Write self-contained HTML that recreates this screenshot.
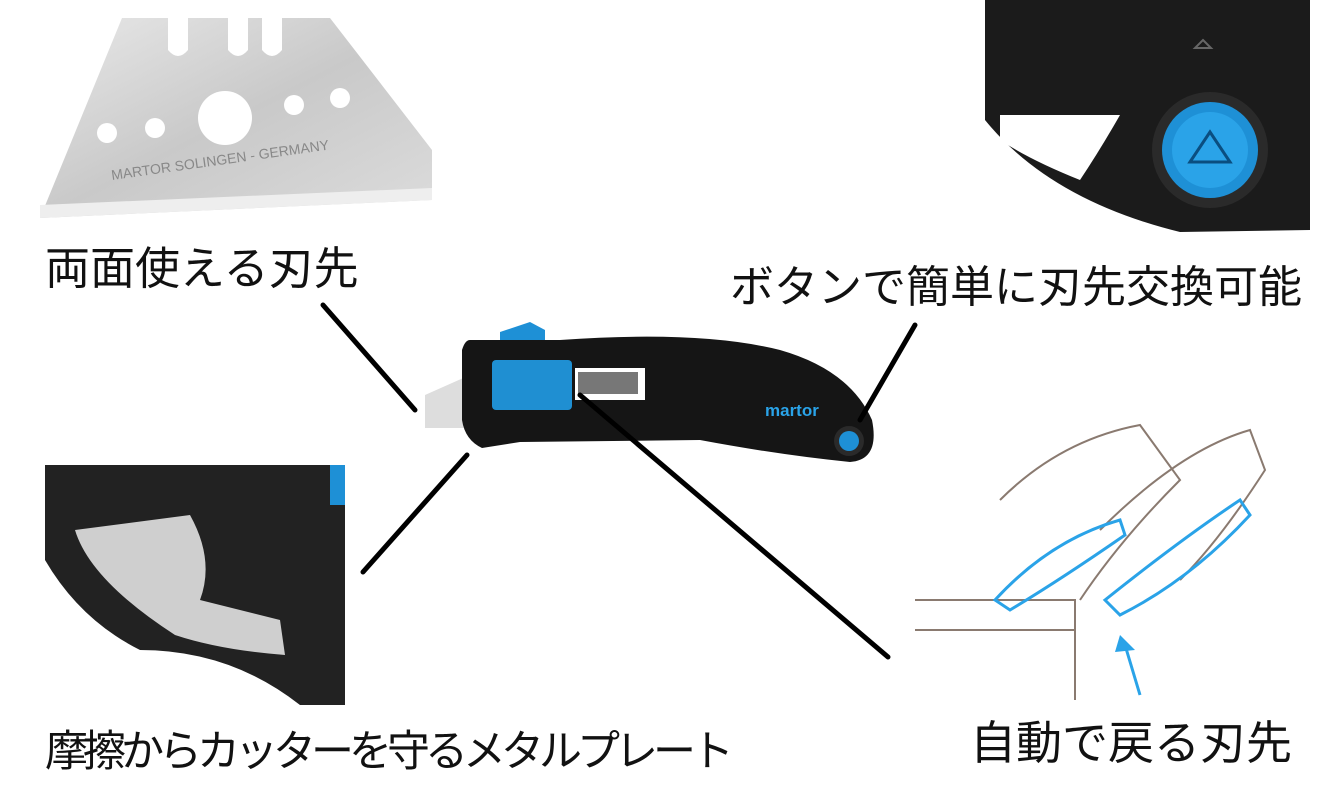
<!DOCTYPE html>
<html><head><meta charset="utf-8"><style>
body{margin:0;width:1337px;height:802px;background:#fff;position:relative;overflow:hidden;font-family:"Liberation Sans","Noto Sans CJK JP",sans-serif}
.t{position:absolute;font-size:45px;color:#111;white-space:nowrap;line-height:1}
</style></head><body>
<svg width="1337" height="802" style="position:absolute;left:0;top:0">
<defs>
<linearGradient id="sv" x1="0" y1="0" x2="1" y2="1"><stop offset="0" stop-color="#e8e8e8"/><stop offset=".5" stop-color="#c9c9c9"/><stop offset="1" stop-color="#dcdcdc"/></linearGradient>
</defs>
<!-- blade -->
<path d="M122,18 L168,18 L168,50 Q178,62 188,50 L188,18 L228,18 L228,50 Q238,62 248,50 L248,18 L262,18 L262,50 Q272,62 282,50 L282,18 L330,18 L432,150 L432,200 L40,218 Z" fill="url(#sv)"/>
<path d="M40,205 L432,188 L432,200 L40,218Z" fill="#eee"/>
<circle cx="225" cy="118" r="27" fill="#fff"/><circle cx="107" cy="133" r="10" fill="#fff"/><circle cx="155" cy="128" r="10" fill="#fff"/><circle cx="294" cy="105" r="10" fill="#fff"/><circle cx="340" cy="98" r="10" fill="#fff"/>
<text x="112" y="180" font-size="14" fill="#888" transform="rotate(-8 112 180)" font-family="Liberation Sans">MARTOR SOLINGEN - GERMANY</text>
<!-- top right photo -->
<path d="M985,0 L1310,0 L1310,230 L1180,232 Q1050,200 985,120 Z" fill="#1b1b1b"/>
<path d="M1000,115 L1120,115 Q1100,150 1080,180 Q1030,160 1000,140 Z" fill="#fff"/>
<circle cx="1210" cy="150" r="58" fill="#2a2a2a"/>
<circle cx="1210" cy="150" r="48" fill="#1e90d6"/>
<circle cx="1210" cy="150" r="38" fill="#2aa3e8"/>
<path d="M1190,162 L1210,132 L1230,162 Z" fill="none" stroke="#0a4e80" stroke-width="3"/>
<path d="M1203,40 L1211,48 L1195,48Z" fill="none" stroke="#666" stroke-width="2"/>
<!-- knife -->
<path d="M425,395 L470,375 L470,428 L425,428Z" fill="#ddd"/>
<path d="M500,332 L530,322 L545,330 L545,342 L500,342Z" fill="#1e90d6"/>
<path d="M470,340 L560,340 Q700,330 780,350 Q850,370 872,420 Q880,460 850,462 Q780,455 700,440 L520,442 L482,448 Q465,440 462,420 L462,350 Q465,340 470,340Z" fill="#151515"/>
<rect x="492" y="360" width="80" height="50" rx="4" fill="#1f8fd2"/>
<rect x="575" y="368" width="70" height="32" fill="#fff"/>
<rect x="578" y="372" width="60" height="22" fill="#777"/>
<text x="765" y="416" font-size="17" fill="#2aa3e8" font-weight="bold" font-family="Liberation Sans">martor</text>
<circle cx="849" cy="441" r="15" fill="#2a2a2a"/><circle cx="849" cy="441" r="10" fill="#1e90d6"/>
<!-- lines -->
<g stroke="#000" stroke-width="5" stroke-linecap="round">
<line x1="323" y1="305" x2="415" y2="410"/>
<line x1="467" y1="455" x2="363" y2="572"/>
<line x1="915" y1="325" x2="860" y2="420"/>
<line x1="580" y1="395" x2="888" y2="657"/>
</g>
<!-- bottom left photo -->
<path d="M45,465 L345,465 L345,705 L300,705 Q230,650 140,650 Q80,620 45,560 Z" fill="#222"/>
<rect x="330" y="465" width="15" height="40" fill="#1e90d6"/>
<path d="M75,530 L190,515 Q215,560 200,600 L280,620 L285,655 Q220,650 175,635 Q90,580 75,530Z" fill="#cfcfcf"/>
<!-- bottom right illustration -->
<g fill="none" stroke="#8a7a70" stroke-width="2">
<path d="M915,600 L1075,600 L1075,700"/>
<path d="M915,630 L1075,630"/>
<path d="M1000,500 Q1060,440 1140,425 L1180,480 Q1120,540 1080,600"/>
<path d="M1100,530 Q1180,450 1250,430 L1265,470 Q1220,540 1180,580"/>
</g>
<g fill="none" stroke="#2aa3e8" stroke-width="3">
<path d="M995,600 Q1050,540 1120,520 L1125,535 Q1060,580 1010,610Z"/>
<path d="M1105,600 Q1180,540 1240,500 L1250,515 Q1190,580 1120,615Z"/>
<line x1="1140" y1="695" x2="1125" y2="645"/>
</g>
<path d="M1120,635 L1135,650 L1115,652Z" fill="#2aa3e8"/>
</svg>
<div class="t" style="left:45px;top:246px">両面使える刃先</div>
<div class="t" style="left:730px;top:266px;font-size:44px">ボタンで簡単に刃先交換可能</div>
<div class="t" style="left:45px;top:731px;font-size:43px;letter-spacing:-5px">摩擦からカッターを守るメタルプレート</div>
<div class="t" style="left:970px;top:720px;font-size:46px">自動で戻る刃先</div>
</body></html>
